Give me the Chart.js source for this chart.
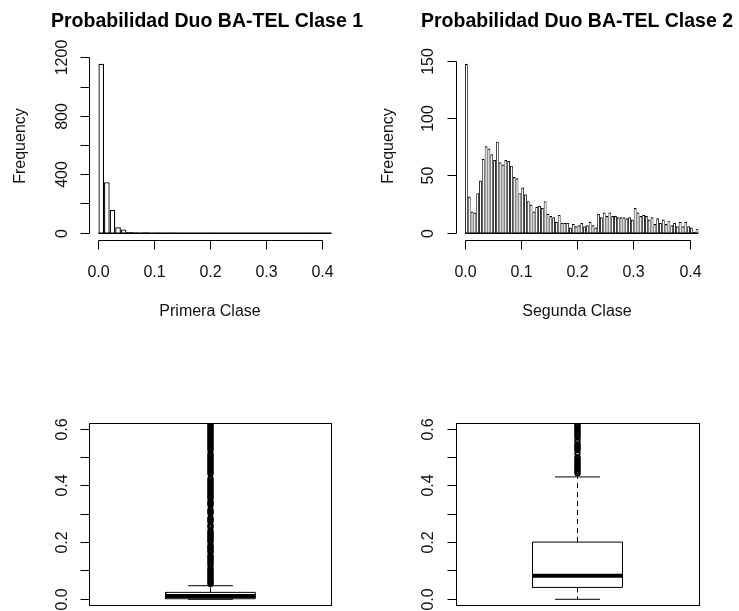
<!DOCTYPE html>
<html>
<head>
<meta charset="utf-8">
<script src="https://cdn.jsdelivr.net/npm/chart.js@4.4.1/dist/chart.umd.min.js"></script>
<style>
  body { margin: 0; background: #fff; }
  #wrap { position: relative; width: 739px; height: 611px; overflow: hidden; background: #fff; }
  #wrap canvas { position: absolute; left: 0; top: 0; }
</style>
</head>
<body>
<div id="wrap">
  <canvas id="hist1" width="739" height="611"></canvas>
  <canvas id="hist2" width="739" height="611"></canvas>
  <canvas id="box1" width="739" height="611"></canvas>
  <canvas id="box2" width="739" height="611"></canvas>
</div>
<script>
// Primera Clase: counts per bin of 0.01, starting at 0
const clase1Counts = [1159, 348, 159, 41, 25, 8, 6, 5, 6, 4, 5, 4, 5, 3, 4, 0, 0, 0, 0, 3, 3, 0, 3,
  0, 0, 0, 0, 0, 0, 0, 0, 0, 0, 0, 0, 2, 0, 3, 0, 0, 3, 3];
const clase1BinWidth = 0.01;

// Segunda Clase: counts per bin of 0.005, starting at 0
const clase2Counts = [148, 32, 19, 18, 35, 46, 65, 76, 74, 69, 64, 80, 62, 60, 64, 63, 59, 49, 48, 35,
  40, 34, 28, 25, 19, 23, 24, 22, 28, 17, 15, 14, 10, 16, 9, 9, 9, 5, 8, 6,
  7, 9, 6, 7, 10, 7, 5, 17, 14, 18, 15, 18, 15, 15, 14, 14, 14, 13, 14, 12,
  22, 18, 15, 16, 15, 12, 14, 8, 13, 9, 12, 8, 11, 7, 9, 6, 10, 6, 10, 6,
  5, 1, 4];
const clase2BinWidth = 0.005;

// boxplot stats: [lower whisker, Q1, median, Q3, upper whisker]
const clase1Box = [0, 0.002, 0.012, 0.0245, 0.048];
const clase1Outliers = [0.055, 0.061, 0.068, 0.075, 0.082, 0.089, 0.096, 0.103, 0.109,
  0.121, 0.128, 0.135, 0.142, 0.149, 0.154, 0.167, 0.173, 0.179, 0.185, 0.19,
  0.203, 0.209, 0.216, 0.222, 0.229, 0.235, 0.241, 0.255, 0.261, 0.275, 0.281, 0.287,
  0.304, 0.31, 0.316, 0.333, 0.339, 0.344, 0.357, 0.363, 0.37, 0.377, 0.384, 0.391,
  0.398, 0.405, 0.412, 0.419, 0.426, 0.443, 0.45, 0.457, 0.464, 0.471, 0.478, 0.485,
  0.492, 0.499, 0.506, 0.513, 0.527, 0.534, 0.541, 0.548, 0.555, 0.562, 0.569, 0.576,
  0.583, 0.59, 0.597, 0.604, 0.611, 0.618];

const clase2Box = [0, 0.042, 0.083, 0.202, 0.432];
const clase2Outliers = [0.445, 0.452, 0.459, 0.466, 0.473, 0.48, 0.487, 0.494, 0.501,
  0.515, 0.527, 0.534, 0.541, 0.547, 0.559, 0.571, 0.578, 0.585, 0.592, 0.599,
  0.606, 0.613, 0.62];

// axis ticks and labels
const histXTicks = [0, 0.1, 0.2, 0.3, 0.4];
const histXLabels = ["0.0", "0.1", "0.2", "0.3", "0.4"];
const clase1YTicks = [0, 200, 400, 600, 800, 1000, 1200];
const clase1YLabels = ["0", "", "400", "", "800", "", "1200"];
const clase2YTicks = [0, 50, 100, 150];
const clase2YLabels = ["0", "50", "100", "150"];
const boxYTicks = [0, 0.1, 0.2, 0.3, 0.4, 0.5, 0.6];
const boxYLabels = ["0.0", "", "0.2", "", "0.4", "", "0.6"];

const FONT = "'Liberation Sans', Arial, Helvetica, sans-serif";
const TICK = 9;
const BOX_HALF = 0.2;
const STAPLE_HALF = 0.1;

const crisp = (v) => Math.round(v - 0.5) + 0.5;

// R style axes, frame and titles drawn from the chart scales
const rAxesPlugin = {
  id: "rAxes",
  afterDraw(chart, args, o) {
    const { ctx, chartArea: a } = chart;
    const xs = chart.scales.x;
    const ys = chart.scales.y;
    ctx.save();
    ctx.strokeStyle = "#000";
    ctx.fillStyle = "#111";
    ctx.lineWidth = 1;
    ctx.font = `16px ${FONT}`;

    const seg = (x1, y1, x2, y2) => {
      ctx.beginPath();
      ctx.moveTo(x1, y1);
      ctx.lineTo(x2, y2);
      ctx.stroke();
    };

    const left = crisp(a.left);
    const bottom = crisp(a.bottom);

    if (o.frame) {
      ctx.strokeRect(left, crisp(a.top), crisp(a.right) - left, bottom - crisp(a.top));
    }

    // y axis
    const py = o.yTicks.map((v) => crisp(ys.getPixelForValue(v)));
    seg(left, py[0], left, py[py.length - 1]);
    py.forEach((p, i) => {
      seg(left, p, left - TICK, p);
      if (!o.yLabels[i]) return;
      ctx.save();
      ctx.translate(a.left - 23, p);
      ctx.rotate(-Math.PI / 2);
      ctx.textAlign = "center";
      ctx.textBaseline = "alphabetic";
      ctx.fillText(o.yLabels[i], 0, 0);
      ctx.restore();
    });

    // x axis
    if (o.xTicks) {
      const px = o.xTicks.map((v) => crisp(xs.getPixelForValue(v)));
      seg(px[0], bottom, px[px.length - 1], bottom);
      ctx.textAlign = "center";
      ctx.textBaseline = "alphabetic";
      px.forEach((p, i) => {
        seg(p, bottom, p, bottom + TICK);
        ctx.fillText(o.xLabels[i], p, a.bottom + 37);
      });
    }

    if (o.xTitle) {
      ctx.textAlign = "center";
      ctx.fillText(o.xTitle.text, o.xTitle.x, o.xTitle.y);
    }
    if (o.yTitle) {
      ctx.save();
      ctx.translate(o.yTitle.x, o.yTitle.y);
      ctx.rotate(-Math.PI / 2);
      ctx.textAlign = "center";
      ctx.fillText(o.yTitle.text, 0, 0);
      ctx.restore();
    }
    if (o.title) {
      ctx.fillStyle = "#000";
      ctx.font = `bold 19.5px ${FONT}`;
      ctx.textAlign = "center";
      ctx.fillText(o.title.text, o.title.x, o.title.y);
    }
    ctx.restore();
  },
};

function histDatasets(counts, binWidth, edge) {
  const bars = counts.map((c, i) => ({ x: (i + 0.5) * binWidth, y: c }));
  return [
    {
      type: "line",
      data: [{ x: 0, y: 0 }, { x: counts.length * binWidth, y: 0 }],
      borderColor: "#000",
      borderWidth: 1.5,
      pointRadius: 0,
    },
    {
      type: "bar",
      data: bars,
      backgroundColor: "#fff",
      borderColor: "#000",
      borderWidth: { top: 1.2, left: edge, right: edge, bottom: 0 },
      borderSkipped: false,
      barPercentage: 1,
      categoryPercentage: 1,
      inflateAmount: 0,
    },
  ];
}

function boxDatasets(stats, outliers) {
  const [lo, q1, med, q3, hi] = stats;
  const line = (points, extra = {}) => ({
    data: points,
    showLine: true,
    pointRadius: 0,
    borderColor: "#000",
    borderWidth: 1,
    fill: false,
    ...extra,
  });
  return [
    line([
      { x: 1 - BOX_HALF, y: q1 },
      { x: 1 + BOX_HALF, y: q1 },
      { x: 1 + BOX_HALF, y: q3 },
      { x: 1 - BOX_HALF, y: q3 },
      { x: 1 - BOX_HALF, y: q1 },
    ]),
    line([{ x: 1 - BOX_HALF, y: med }, { x: 1 + BOX_HALF, y: med }], { borderWidth: 4 }),
    line([{ x: 1, y: q3 }, { x: 1, y: hi }], { borderDash: [5, 4] }),
    line([{ x: 1, y: q1 }, { x: 1, y: lo }], { borderDash: [5, 4] }),
    line([{ x: 1 - STAPLE_HALF, y: hi }, { x: 1 + STAPLE_HALF, y: hi }]),
    line([{ x: 1 - STAPLE_HALF, y: lo }, { x: 1 + STAPLE_HALF, y: lo }]),
    {
      data: outliers.map((v) => ({ x: 1, y: v })),
      showLine: false,
      pointRadius: 2.2,
      pointBorderWidth: 2,
      pointBackgroundColor: "rgba(0,0,0,0)",
      pointBorderColor: "#000",
    },
  ];
}

function baseOptions(padding, xRange, yRange, axes) {
  return {
    responsive: false,
    animation: false,
    events: [],
    layout: { padding },
    plugins: { legend: { display: false }, tooltip: { enabled: false }, rAxes: axes },
    scales: {
      x: { type: "linear", display: false, offset: false, min: xRange[0], max: xRange[1] },
      y: { type: "linear", display: false, min: yRange[0], max: yRange[1] },
    },
  };
}

// plot regions of the 2x2 layout
const col1 = { left: 89.5, right: 739 - 331.5 };
const col2 = { left: 456, right: 739 - 699 };
const histRow = { top: 57, bottom: 611 - 240 };
const boxRow = { top: 423, bottom: 611 - 605 };

new Chart(document.getElementById("hist1"), {
  type: "bar",
  data: { datasets: histDatasets(clase1Counts, clase1BinWidth, 1.3) },
  options: baseOptions({ ...col1, ...histRow }, [-0.016, 0.416], [-46.4, 1205.4], {
    xTicks: histXTicks, xLabels: histXLabels,
    yTicks: clase1YTicks, yLabels: clase1YLabels,
    title: { text: "Probabilidad Duo BA-TEL Clase 1", x: 207, y: 27 },
    xTitle: { text: "Primera Clase", x: 210, y: 316 },
    yTitle: { text: "Frequency", x: 25, y: 146 },
  }),
  plugins: [rAxesPlugin],
});

new Chart(document.getElementById("hist2"), {
  type: "bar",
  data: { datasets: histDatasets(clase2Counts, clase2BinWidth, 0.9) },
  options: baseOptions({ ...col2, ...histRow }, [-0.016, 0.416], [-5.92, 153.92], {
    xTicks: histXTicks, xLabels: histXLabels,
    yTicks: clase2YTicks, yLabels: clase2YLabels,
    title: { text: "Probabilidad Duo BA-TEL Clase 2", x: 577, y: 27 },
    xTitle: { text: "Segunda Clase", x: 577, y: 316 },
    yTitle: { text: "Frequency", x: 393, y: 146 },
  }),
  plugins: [rAxesPlugin],
});

new Chart(document.getElementById("box1"), {
  type: "scatter",
  data: { datasets: boxDatasets(clase1Box, clase1Outliers) },
  options: baseOptions({ ...col1, ...boxRow }, [0.46, 1.54], [-0.0201, 0.6223], {
    yTicks: boxYTicks, yLabels: boxYLabels, frame: true,
  }),
  plugins: [rAxesPlugin],
});

new Chart(document.getElementById("box2"), {
  type: "scatter",
  data: { datasets: boxDatasets(clase2Box, clase2Outliers) },
  options: baseOptions({ ...col2, ...boxRow }, [0.46, 1.54], [-0.0201, 0.6223], {
    yTicks: boxYTicks, yLabels: boxYLabels, frame: true,
  }),
  plugins: [rAxesPlugin],
});
</script>
</body>
</html>
